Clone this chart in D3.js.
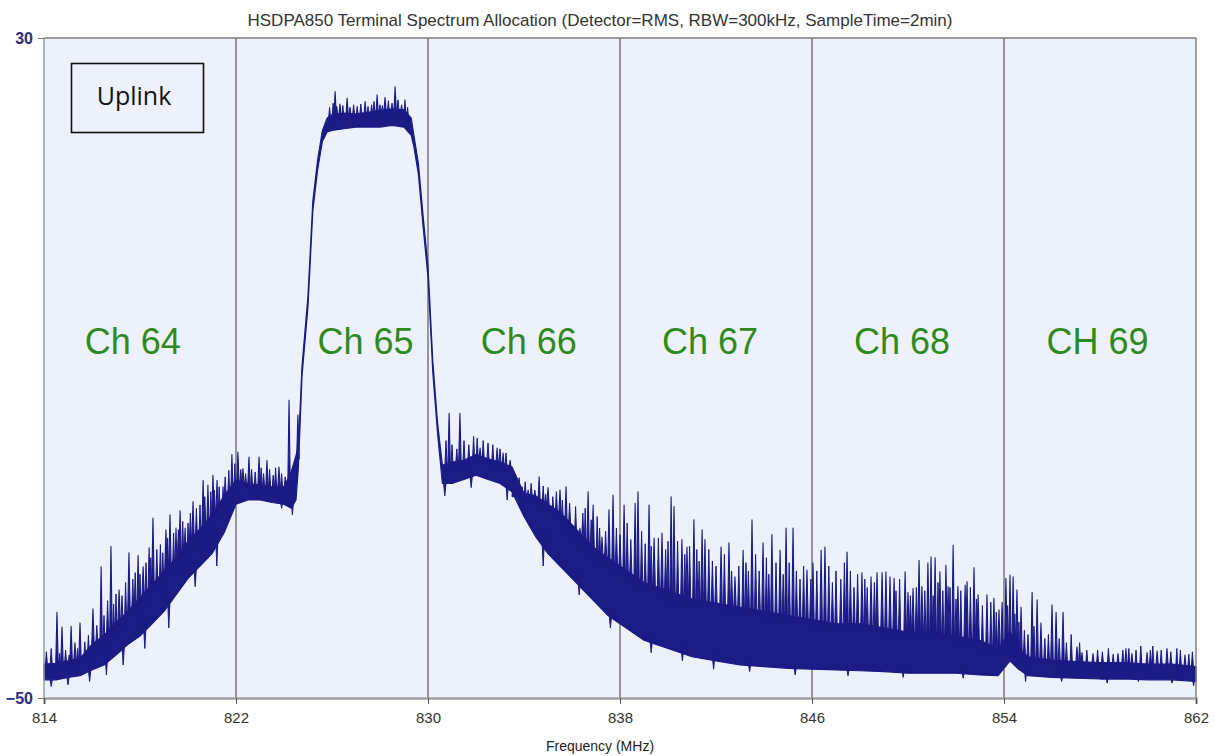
<!DOCTYPE html>
<html>
<head>
<meta charset="utf-8">
<script src="https://cdn.jsdelivr.net/npm/d3@7"></script>
<style>
  body { margin: 0; background: #fff; }
  svg { display: block; }
</style>
</head>
<body>
<div id="chart-area"></div>
<script>
// trace envelope: frequency (MHz), lower and upper edge of the dense trace (dBm)
var freqs = [814, 814.5, 815, 815.5, 816, 816.5, 817, 817.5, 818, 818.5, 819, 819.5, 820, 820.5, 821, 821.5,
  822, 822.5, 823, 823.5, 824, 824.3, 824.5, 824.6, 824.75, 825, 825.2, 825.4, 825.6, 825.8,
  826, 826.5, 827, 827.5, 828, 828.5, 829, 829.3, 829.4, 829.6, 829.8, 830, 830.2, 830.4, 830.6,
  831, 831.5, 832, 832.5, 833, 833.5, 834, 834.5, 835, 835.5, 836, 836.5, 837, 837.5,
  838, 838.5, 839, 839.5, 840, 841, 842, 843, 844, 845, 846, 847, 848, 849, 850, 851, 852, 853,
  853.75, 854.25, 854.6, 855, 856, 857, 858, 859, 860, 861, 862];
var lowEdge = [-47.8, -47.8, -47.5, -47.3, -46.6, -46.0, -44.8, -43.5, -42.5, -41.0, -39.5, -37.5, -35.5, -34.0, -32.5, -30.0,
  -26.5, -26.0, -26.0, -26.3, -26.5, -27.0, -26.0, -22.0, -11.0, -2.5, 9.0, 14.0, 17.5, 18.6,
  18.8, 19.0, 19.2, 19.2, 19.2, 19.4, 19.2, 18.2, 17.0, 13.5, 7.0, 1.0, -10.5, -18.0, -24.0,
  -24.0, -23.5, -23.0, -23.5, -24.0, -25.0, -28.0, -30.5, -32.5, -34.0, -35.5, -37.0, -38.5, -40.0,
  -41.0, -42.0, -43.0, -43.5, -44.0, -45.0, -45.5, -46.0, -46.2, -46.4, -46.5, -46.6, -46.7, -46.8, -47.0, -47.0, -47.0, -47.2,
  -47.3, -45.5, -46.5, -47.3, -47.5, -47.6, -47.7, -47.7, -47.8, -47.8, -48.0];
var highEdge = [-45.9, -45.8, -45.5, -45.2, -43.5, -42.4, -40.8, -39.5, -37.8, -36.3, -34.6, -33.0, -31.0, -29.5, -27.8, -25.5,
  -23.6, -24.0, -24.2, -24.4, -24.4, -22.6, -20.6, -19.5, -9.8, -1.2, 10.2, 15.2, 18.8, 20.3,
  20.7, 20.9, 20.8, 21.0, 21.2, 21.4, 21.3, 20.3, 18.4, 14.8, 8.3, 2.3, -9.2, -16.7, -21.8,
  -21.4, -21.2, -20.5, -21.0, -21.4, -22.0, -25.2, -25.5, -26.5, -27.5, -29.0, -30.5, -32.0, -33.0,
  -34.0, -35.0, -36.0, -36.5, -37.0, -38.0, -38.5, -39.0, -39.5, -40.0, -40.5, -41.0, -41.0, -41.5, -42.0, -42.0, -42.5, -43.0,
  -44.0, -42.0, -44.0, -45.0, -45.4, -45.6, -45.7, -45.7, -45.9, -45.9, -46.2];

// strong spurs sticking out of the trace: [frequency, peak dBm]
var spikes = [
  [814.54, -39.6], [814.75, -41.4], [815.13, -41.3], [815.29, -43.3], [815.5, -40.9], [816.04, -39.2],
  [816.38, -34.1], [816.79, -31.6], [817.13, -36.9], [817.54, -32.4], [817.92, -32.7], [818.13, -34.1],
  [818.38, -31.8], [818.54, -28.2], [819.08, -29.6], [819.25, -27.8], [819.5, -29.4], [819.67, -27.3],
  [819.88, -29.4], [820.21, -26.2], [820.63, -23.6], [820.83, -24.2], [821.04, -23.0], [821.21, -23.6],
  [821.46, -24.4], [821.83, -20.5], [822.08, -20.2], [822.29, -22.2], [822.54, -20.8], [822.96, -20.8],
  [823.29, -21.2], [823.79, -22.0], [824.21, -13.9], [824.58, -15.7],
  [826.13, 23.5], [826.33, 22.0], [826.63, 22.7], [827.38, 22.3], [827.88, 23.1], [828.21, 22.8],
  [828.63, 24.1], [829.04, 22.5],
  [830.88, -15.5], [831.33, -15.5], [832.17, -19.7], [832.88, -19.7], [833.13, -20.3], [833.42, -21.2],
  [833.71, -24.8], [833.92, -24.4], [834.17, -24.8], [834.63, -23.2], [835.0, -24.5], [835.5, -24.8],
  [835.75, -24.4], [836.0, -29.4], [836.33, -29.4], [836.67, -25.0], [836.88, -26.6], [837.25, -30.5],
  [837.54, -27.2], [837.71, -25.4], [838.17, -26.6], [838.63, -26.4], [838.75, -25.0], [839.21, -26.6],
  [839.42, -30.6], [839.75, -30.0], [840.13, -25.6], [840.25, -26.8], [840.58, -30.8], [840.79, -31.7],
  [841.08, -28.4], [841.42, -29.6], [841.54, -30.8], [842.21, -31.7], [842.54, -31.2], [842.79, -35.3],
  [843.13, -32.1], [843.5, -28.4], [843.96, -31.2], [844.33, -30.2], [844.67, -32.1], [844.92, -29.4],
  [845.21, -29.4], [845.79, -34.5], [846.04, -33.6], [846.38, -32.1], [846.54, -31.7], [847.46, -32.3],
  [848.08, -34.8], [848.46, -35.3], [848.71, -34.8], [848.92, -34.8], [849.08, -34.7], [849.25, -35.3],
  [849.42, -35.5], [849.88, -34.7], [850.0, -37.2], [850.21, -36.7], [850.46, -33.3], [850.58, -36.5],
  [850.83, -33.6], [850.96, -32.9], [851.13, -33.0], [851.33, -34.7], [851.58, -33.9], [851.67, -36.5],
  [851.88, -31.5], [852.08, -36.5], [852.38, -36.3], [852.46, -35.9], [852.75, -34.2], [852.92, -37.5],
  [853.29, -37.5], [853.58, -37.9], [853.79, -39.3], [853.92, -38.4], [854.08, -35.5], [854.25, -35.1],
  [854.38, -35.3], [854.54, -36.9], [854.71, -39.0], [855.17, -37.2], [855.38, -38.1], [855.54, -40.9],
  [856.0, -38.7], [856.17, -39.6], [856.46, -39.6], [857.04, -43.8], [857.25, -44.5], [857.71, -44.6],
  [858.75, -44.6], [859.08, -44.0], [859.33, -44.6], [859.96, -44.5], [860.38, -44.3], [860.79, -44.0],
  [861.54, -44.8]
];

// smaller spurs that make the grassy top of the trace
var minorSpurs = [
  [814.1, -44.4], [814.3, -44.0], [814.65, -44.6], [814.9, -44.2], [815.05, -44.8], [815.4, -44.0],
  [815.7, -43.2], [815.85, -42.4], [816.2, -41.2], [816.5, -40.0], [816.65, -38.2], [816.9, -38.6],
  [817.0, -37.4], [817.25, -37.6], [817.4, -36.0], [817.7, -35.6], [817.8, -34.8], [818.0, -35.0],
  [818.25, -33.6], [818.45, -33.0], [818.7, -32.0], [818.85, -31.4], [818.95, -32.4], [819.15, -30.6],
  [819.4, -30.0], [819.6, -29.6], [819.78, -28.6], [820.0, -28.8], [820.1, -27.6], [820.35, -27.0],
  [820.5, -26.6], [820.7, -25.6], [820.95, -25.0], [821.1, -24.8], [821.3, -24.4], [821.55, -23.2],
  [821.7, -22.4], [821.95, -21.6], [822.2, -22.3], [822.4, -22.8], [822.65, -22.3], [822.8, -22.6],
  [823.05, -22.1], [823.15, -22.8], [823.4, -22.3], [823.55, -23.0], [823.65, -22.1], [823.9, -22.8],
  [824.05, -23.2],
  [825.9, 21.6], [826.05, 22.1], [826.2, 21.7], [826.45, 21.8], [826.75, 21.6], [826.9, 21.9],
  [827.05, 21.7], [827.2, 22.0], [827.5, 21.7], [827.65, 21.9], [827.75, 22.3], [828.0, 21.9],
  [828.1, 21.8], [828.35, 22.4], [828.5, 22.1], [828.75, 22.5], [828.9, 21.9], [829.15, 21.6],
  [830.75, -18.8], [831.0, -19.3], [831.2, -19.8], [831.5, -18.8], [831.7, -19.3], [831.9, -18.3],
  [832.05, -18.5], [832.3, -18.8], [832.5, -19.1], [832.7, -19.3], [833.0, -19.8], [833.25, -20.3],
  [833.55, -22.8], [833.8, -23.3], [834.05, -23.8], [834.3, -24.0], [834.45, -24.8], [834.8, -24.3],
  [834.9, -25.3], [835.2, -25.6], [835.35, -25.0], [835.6, -26.0], [835.9, -26.4], [836.15, -26.8],
  [836.45, -27.6], [836.55, -27.0], [836.8, -28.4], [837.05, -28.0], [837.15, -29.4], [837.4, -29.8],
  [837.85, -29.4], [838.0, -30.2], [838.3, -28.8], [838.45, -30.8], [838.9, -29.8], [839.05, -31.3],
  [839.3, -31.6], [839.6, -30.6], [839.9, -32.0], [840.0, -31.0], [840.4, -31.0], [840.7, -32.6],
  [840.9, -31.6], [841.2, -32.0], [841.3, -33.4], [841.7, -32.0], [841.85, -33.4], [842.0, -34.0],
  [842.35, -32.6], [842.65, -34.6], [842.95, -34.0], [843.25, -33.6], [843.35, -34.6], [843.65, -32.6],
  [843.8, -34.6], [844.1, -33.0], [844.2, -35.0], [844.5, -33.6], [844.8, -35.0], [845.05, -33.6],
  [845.35, -34.6], [845.5, -35.6], [845.65, -34.0], [845.95, -35.6], [846.2, -34.6], [846.7, -34.0],
  [846.85, -36.0], [847.0, -34.6], [847.2, -35.6], [847.35, -33.6], [847.6, -34.6], [847.75, -36.6],
  [847.9, -35.0], [848.2, -35.6], [848.3, -36.6], [848.6, -36.0], [849.5, -37.0], [849.65, -35.6],
  [850.1, -37.6], [850.35, -36.6], [850.7, -37.0], [851.05, -37.6], [851.25, -36.0], [851.45, -37.0],
  [851.75, -36.6], [852.0, -38.0], [852.2, -37.0], [852.6, -36.6], [852.85, -38.0], [853.1, -38.8],
  [853.45, -38.4], [853.68, -39.6], [854.15, -38.8], [854.45, -39.8], [854.62, -40.8], [854.85, -41.8],
  [855.0, -42.3], [855.25, -41.3], [855.7, -42.8], [855.85, -42.3], [856.3, -42.8], [856.6, -43.3],
  [856.8, -42.3], [857.15, -43.3], [857.45, -44.2], [857.9, -44.2], [858.1, -44.4], [858.35, -44.0],
  [858.55, -44.7], [858.95, -44.2], [859.2, -44.0], [859.5, -44.2], [859.7, -43.7], [860.1, -44.2],
  [860.2, -43.7], [860.55, -44.2], [860.95, -44.4], [861.2, -44.0], [861.35, -44.2], [861.7, -44.7],
  [861.85, -44.4]
];

// downward dips below the lower edge of the trace
var dips = [
  [814.3, -48.6], [815.0, -48.4], [815.9, -48.0], [816.6, -47.2], [817.3, -46.0], [818.2, -44.0],
  [819.2, -41.5], [820.3, -36.5], [821.2, -34.0], [823.9, -27.0], [824.35, -27.8], [830.7, -25.5],
  [831.8, -24.5], [833.3, -26.0], [834.8, -34.0], [836.3, -37.5], [837.6, -41.5], [839.3, -44.5],
  [840.6, -45.5], [841.9, -46.5], [843.4, -46.8], [845.3, -47.2], [847.5, -47.3], [849.8, -47.5],
  [852.3, -47.6], [854.9, -48.0], [856.4, -48.0], [858.3, -48.2], [859.6, -48.0], [861.0, -48.2],
  [861.9, -48.5]
];

var xTicks = [814, 822, 830, 838, 846, 854, 862];
var yTicks = [30, -50];
var channelNames = ["Ch 64", "Ch 65", "Ch 66", "Ch 67", "Ch 68", "CH 69"];
var channelLabelFreqs = [817.7, 827.4, 834.2, 841.75, 849.75, 857.9];
var titleText = "HSDPA850 Terminal Spectrum Allocation (Detector=RMS, RBW=300kHz, SampleTime=2min)";

var svgWidth = 1215, svgHeight = 756;
var margin = { top: 38, right: 19, bottom: 58, left: 44 };
var w = svgWidth - margin.left - margin.right;
var h = svgHeight - margin.top - margin.bottom;
var traceColor = "#1b1b85";

var svg = d3.select("#chart-area").append("svg")
  .attr("width", svgWidth)
  .attr("height", svgHeight);

var x = d3.scaleLinear().domain([814, 862]).range([margin.left, margin.left + w]);
var y = d3.scaleLinear().domain([-50, 30]).range([margin.top + h, margin.top]);

// plot background
svg.append("rect")
  .attr("x", x(814)).attr("y", y(30))
  .attr("width", x(862) - x(814)).attr("height", y(-50) - y(30))
  .attr("fill", "#edf1fb");

// vertical grid at each tick
svg.append("g")
  .selectAll("line")
  .data(xTicks.slice(1, -1))
  .join("line")
    .attr("x1", d => x(d)).attr("x2", d => x(d))
    .attr("y1", y(30)).attr("y2", y(-50))
    .attr("stroke", "#5a5a5a")
    .attr("stroke-width", 1.2);

// trace
var rows = freqs.map((f, i) => ({ f: f, lo: lowEdge[i], hi: highEdge[i] }));

var area = d3.area()
  .x(d => x(d.f))
  .y0(d => y(d.lo))
  .y1(d => y(d.hi));

svg.append("path")
  .datum(rows)
  .attr("d", area)
  .attr("fill", traceColor)
  .attr("stroke", traceColor)
  .attr("stroke-width", 1.2)
  .attr("stroke-linejoin", "round");

var bis = d3.bisector(d => d.f).left;
function nearRows(f) {
  var i = Math.max(1, Math.min(rows.length - 1, bis(rows, f)));
  return [rows[i - 1], rows[i]];
}
function topAt(f) {
  var r = nearRows(f);
  return Math.min(r[0].hi, r[1].hi) - 0.4;
}
function bottomAt(f) {
  var r = nearRows(f);
  return Math.max(r[0].lo, r[1].lo) + 0.4;
}

function spur(f, from, to, half) {
  var px = x(f), b = y(from), p = y(to);
  return "M" + (px - half) + "," + b + "L" + px + "," + p + "L" + (px + half) + "," + b + "Z";
}

svg.append("g")
  .selectAll("path")
  .data(minorSpurs)
  .join("path")
    .attr("d", d => spur(d[0], topAt(d[0]), d[1], 1.2))
    .attr("fill", traceColor)
    .attr("stroke", traceColor)
    .attr("stroke-width", 1)
    .attr("stroke-linejoin", "round");

svg.append("g")
  .selectAll("path")
  .data(spikes)
  .join("path")
    .attr("d", d => spur(d[0], topAt(d[0]), d[1], 1.3))
    .attr("fill", traceColor)
    .attr("stroke", traceColor)
    .attr("stroke-width", 1.1)
    .attr("stroke-linejoin", "round");

svg.append("g")
  .selectAll("path")
  .data(dips)
  .join("path")
    .attr("d", d => spur(d[0], bottomAt(d[0]), d[1], 1.5))
    .attr("fill", traceColor)
    .attr("stroke", traceColor)
    .attr("stroke-width", 1)
    .attr("stroke-linejoin", "round");

// frame
svg.append("line")
  .attr("x1", x(814)).attr("x2", x(862)).attr("y1", y(30)).attr("y2", y(30))
  .attr("stroke", "#808080").attr("stroke-width", 1.5);
svg.append("line")
  .attr("x1", x(862)).attr("x2", x(862)).attr("y1", y(30)).attr("y2", y(-50))
  .attr("stroke", "#808080").attr("stroke-width", 1.5);
svg.append("line")
  .attr("x1", x(814)).attr("x2", x(814)).attr("y1", y(30)).attr("y2", y(-50))
  .attr("stroke", "#9a9a9a").attr("stroke-width", 1.5);

// axes
var xAxis = svg.append("g")
  .attr("transform", `translate(0,${y(-50)})`)
  .call(d3.axisBottom(x).tickValues(xTicks).tickSize(6).tickPadding(8).tickFormat(d3.format("d")));
xAxis.select(".domain").attr("stroke", "#a0a0a0").attr("stroke-width", 2.5);
xAxis.selectAll(".tick line").attr("stroke", "#555");
xAxis.selectAll(".tick text")
  .attr("fill", "#333")
  .style("font-family", "'Liberation Sans', Arial, sans-serif")
  .style("font-size", "15px");

var yAxis = svg.append("g")
  .attr("transform", `translate(${x(814)},0)`)
  .call(d3.axisLeft(y).tickValues(yTicks).tickSize(6).tickPadding(5));
yAxis.select(".domain").remove();
yAxis.selectAll(".tick line").attr("stroke", "#777");
yAxis.selectAll(".tick text")
  .attr("fill", "#2c2c80")
  .style("font-family", "'Liberation Sans', Arial, sans-serif")
  .style("font-size", "16px")
  .style("font-weight", "bold");

// title and axis title
svg.append("text")
  .attr("x", 600).attr("y", 26)
  .attr("text-anchor", "middle")
  .attr("fill", "#333")
  .style("font-family", "'Liberation Sans', Arial, sans-serif")
  .style("font-size", "17px")
  .text(titleText);

svg.append("text")
  .attr("x", 600).attr("y", 751)
  .attr("text-anchor", "middle")
  .attr("fill", "#222")
  .style("font-family", "'Liberation Sans', Arial, sans-serif")
  .style("font-size", "14px")
  .text("Frequency (MHz)");

// channel labels
svg.append("g")
  .selectAll("text")
  .data(channelNames)
  .join("text")
    .attr("x", (d, i) => x(channelLabelFreqs[i]))
    .attr("y", 354)
    .attr("text-anchor", "middle")
    .attr("fill", "#2f8a1e")
    .style("font-family", "'Liberation Sans', Arial, sans-serif")
    .style("font-size", "36px")
    .text(d => d);

// uplink box
svg.append("rect")
  .attr("x", 71.5).attr("y", 63.5)
  .attr("width", 132).attr("height", 69)
  .attr("fill", "#edf1fb")
  .attr("stroke", "#111")
  .attr("stroke-width", 1.6);
svg.append("text")
  .attr("x", 134).attr("y", 105)
  .attr("text-anchor", "middle")
  .attr("fill", "#111")
  .style("font-family", "'Open Sans', 'Noto Sans', sans-serif")
  .style("font-size", "25px")
  .text("Uplink");
</script>
</body>
</html>
